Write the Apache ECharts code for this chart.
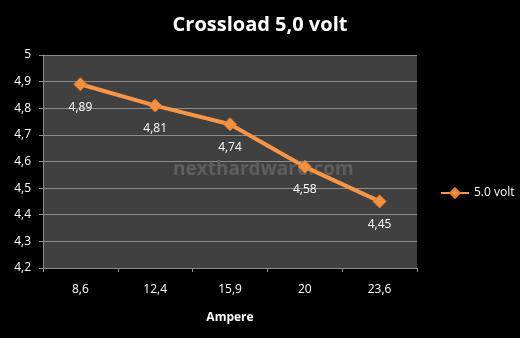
<!DOCTYPE html>
<html><head><meta charset="utf-8">
<script src="https://cdn.jsdelivr.net/npm/echarts@6/dist/echarts.min.js"></script>
<style>html,body{margin:0;padding:0;background:#000}#c{width:520px;height:338px}</style>
</head><body><div id="c"></div>
<script>
var categories = ['8,6', '12,4', '15,9', '20', '23,6'];
var values = [4.89, 4.81, 4.74, 4.58, 4.45];
var seriesName = '5.0 volt';
var titleText = 'Crossload 5,0 volt';
var xName = 'Ampere';
var watermark = 'nexthardware.com';

var chart = echarts.init(document.getElementById('c'));
var font = '"Open Sans", "DejaVu Sans", sans-serif';
chart.setOption({
  backgroundColor: '#000',
  animation: false,
  title: { text: titleText, left: 'center', top: 10,
    textStyle: { color: '#fff', fontSize: 20, fontWeight: 'bold', fontFamily: font } },
  legend: { left: 435, top: 182, orient: 'vertical', itemWidth: 28, itemHeight: 12, itemGap: 4,
    textStyle: { color: '#fff', fontSize: 12, fontFamily: font },
    data: [seriesName] },
  grid: { left: 43, right: 103, top: 55, bottom: 70, show: true,
    backgroundColor: '#404040', borderWidth: 0 },
  graphic: [{ type: 'text', left: 173, top: 160, z: 1,
    style: { text: watermark, fill: '#5e5e5e', font: 'bold 19px ' + font } }],
  xAxis: { type: 'category', data: categories, boundaryGap: true,
    name: xName, nameLocation: 'middle', nameGap: 44,
    nameTextStyle: { color: '#fff', fontSize: 12, fontWeight: 'bold', fontFamily: font },
    axisLine: { lineStyle: { color: '#8c8c8c', width: 1 } },
    axisTick: { show: true, length: 4, lineStyle: { color: '#8c8c8c' } },
    axisLabel: { color: '#fff', fontSize: 12, fontFamily: font, margin: 16 } },
  yAxis: { type: 'value', min: 4.2, max: 5, interval: 0.1,
    axisLine: { show: true, lineStyle: { color: '#8c8c8c' } },
    axisTick: { show: true, length: 4, lineStyle: { color: '#8c8c8c' } },
    splitLine: { lineStyle: { color: '#8c8c8c', width: 1 } },
    axisLabel: { color: '#fff', fontSize: 12, fontFamily: font, margin: 12,
      formatter: function (v) { return String(Math.round(v * 10) / 10).replace('.', ','); } } },
  series: [{ name: seriesName, type: 'line', data: values, z: 3,
    symbol: 'diamond', symbolSize: 13,
    lineStyle: { color: '#f79646', width: 4 },
    itemStyle: { color: '#f5913e', borderColor: '#e07b2a', borderWidth: 1 },
    label: { show: true, position: 'bottom', distance: 10, color: '#fff', fontSize: 12, fontFamily: font,
      formatter: function (p) { return String(p.value).replace('.', ','); } } }]
});
</script></body></html>
